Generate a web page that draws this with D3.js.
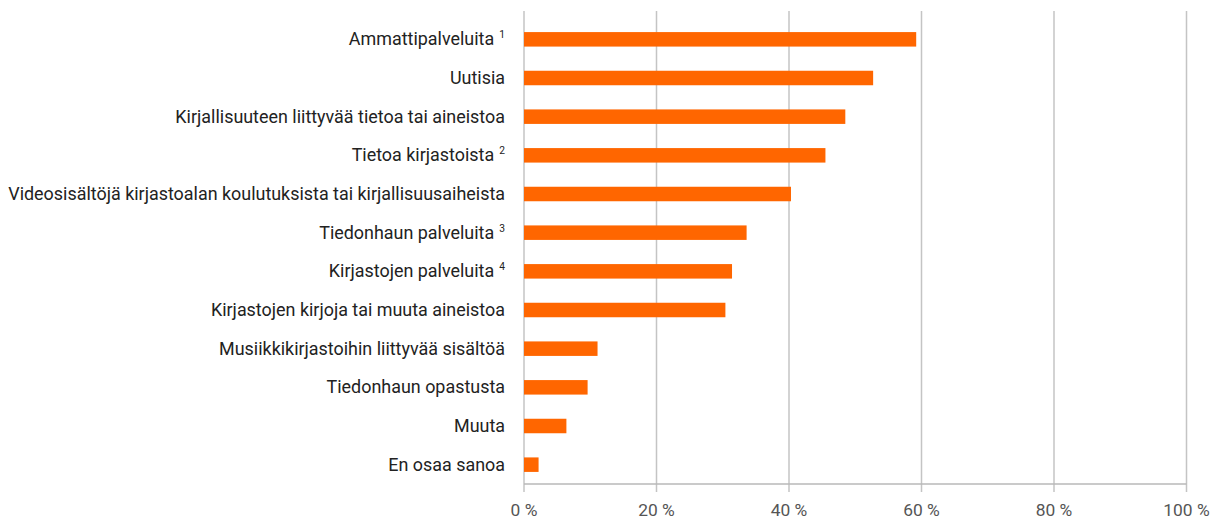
<!DOCTYPE html>
<html>
<head>
<meta charset="utf-8">
<script src="https://cdn.jsdelivr.net/npm/d3@7"></script>
<style>
  body { margin: 0; background: #fff; }
  text { font-family: Roboto, "Noto Sans", sans-serif; }
</style>
</head>
<body>
<div id="chart"></div>
<script>
// categories (top to bottom), footnote marks, values in %
const categories = [
    "Ammattipalveluita",
    "Uutisia",
    "Kirjallisuuteen liittyvää tietoa tai aineistoa",
    "Tietoa kirjastoista",
    "Videosisältöjä kirjastoalan koulutuksista tai kirjallisuusaiheista",
    "Tiedonhaun palveluita",
    "Kirjastojen palveluita",
    "Kirjastojen kirjoja tai muuta aineistoa",
    "Musiikkikirjastoihin liittyvää sisältöä",
    "Tiedonhaun opastusta",
    "Muuta",
    "En osaa sanoa"
]
const footnotes = ["1", "", "", "2", "", "3", "4", "", "", "", "", ""]
const values = [59.2, 52.7, 48.5, 45.5, 40.3, 33.6, 31.4, 30.4, 11.1, 9.6, 6.4, 2.2]
const tickValues = [0, 20, 40, 60, 80, 100]

const W = 1224, H = 521
const margin = {top: 20, left: 524, right: 37.5, bottom: 37}
const width = W - margin.left - margin.right,
    height = H - margin.top - margin.bottom

const svg = d3.select('#chart').append('svg')
    .attr('width', W)
    .attr('height', H)
const g = svg.append('g')
    .attr('transform', `translate(${margin.left},${margin.top})`)

const x = d3.scaleLinear().domain([0, 100]).range([0, width])
const y = d3.scaleBand().domain(categories).range([0, height]).paddingInner(0.625).paddingOuter(0.3125)

// gridlines (with tick marks below the axis)
g.selectAll('.grid')
    .data(tickValues)
    .enter().append('line')
    .attr('x1', d => x(d)).attr('x2', d => x(d))
    .attr('y1', -9).attr('y2', height + 8)
    .attr('stroke', '#c4c4c4')
    .attr('stroke-width', 1.5)

// axis line
g.append('line')
    .attr('x1', 0).attr('x2', width)
    .attr('y1', height).attr('y2', height)
    .attr('stroke', '#b8b8b8')
    .attr('stroke-width', 1.5)

// bars
g.selectAll('.bar')
    .data(values)
    .enter().append('rect')
    .attr('x', x(0))
    .attr('y', (d, i) => y(categories[i]))
    .attr('width', d => x(d) - x(0))
    .attr('height', y.bandwidth())
    .attr('fill', '#ff6600')

// tick labels
const tickLabels = g.selectAll('.tl')
    .data(tickValues)
    .enter().append('text')
    .attr('y', height + 32)
    .attr('text-anchor', 'middle')
    .attr('font-size', 17)
    .attr('fill', '#555')
    .text(d => d + ' %')

// category labels
const labels = g.selectAll('.lab')
    .data(categories)
    .enter().append('text')
    .attr('text-anchor', 'end')
    .attr('font-size', 17.5)
    .attr('fill', '#222')
labels.append('tspan').text(d => d)
labels.append('tspan')
    .attr('font-size', 10)
    .attr('dy', -7)
    .text((d, i) => footnotes[i] ? '\u00a0\u00a0' + footnotes[i] : '')

// condensed look: squeeze text horizontally so the longest label fits
let longest = 0
labels.each(function () { longest = Math.max(longest, this.getComputedTextLength()) })
const k = 497 / longest
labels.attr('transform', (d, i) =>
    `translate(${-19},${y(d) + y.bandwidth() / 2 + 6}) scale(${k},1)`)
tickLabels.attr('transform', d => `translate(${x(d)},0) scale(${k},1)`)
</script>
</body>
</html>
